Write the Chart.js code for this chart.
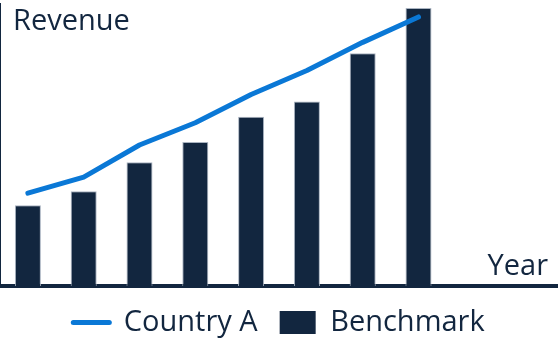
<!DOCTYPE html>
<html>
<head>
<meta charset="utf-8">
<script src="https://cdn.jsdelivr.net/npm/chart.js@4/dist/chart.umd.min.js"></script>
<style>
  html, body { margin: 0; padding: 0; background: #ffffff; }
  #wrap { width: 558px; height: 339px; position: relative; }
</style>
</head>
<body>
<div id="wrap"><canvas id="c"></canvas></div>
<script>
// Categories (years); the axis spans ten slots, data exists for the first eight
const categories = ['1', '2', '3', '4', '5', '6', '7', '8', '9', '10'];
const countryA = [32.9, 38.6, 50.0, 57.9, 67.9, 76.4, 86.4, 95.4];
const benchmark = [28.6, 33.6, 43.9, 51.1, 60.0, 65.4, 82.5, 98.6];
const seriesNames = ['Country A', 'Benchmark'];
const axisTitles = { y: 'Revenue', x: 'Year' };

const NAVY = '#12263f';
const BLUE = '#0a78d6';
const FONT = "'Open Sans', 'Noto Sans', sans-serif";

const axisTextPlugin = {
  id: 'axisText',
  afterDraw(chart) {
    const { ctx, chartArea } = chart;
    ctx.save();
    ctx.fillStyle = NAVY;
    ctx.font = '29px ' + FONT;
    ctx.textBaseline = 'alphabetic';
    ctx.textAlign = 'left';
    ctx.fillText(axisTitles.y, chartArea.left + 13, chartArea.top + 26);
    ctx.textAlign = 'right';
    ctx.fillText(axisTitles.x, chartArea.right - 10, chartArea.bottom - 11);
    ctx.restore();
  }
};

new Chart(document.getElementById('c'), {
  data: {
    labels: categories,
    datasets: [
      {
        type: 'line',
        label: seriesNames[0],
        data: countryA,
        borderColor: BLUE,
        backgroundColor: BLUE,
        borderWidth: 5,
        borderCapStyle: 'round',
        borderJoinStyle: 'round',
        pointRadius: 0,
        pointHoverRadius: 0,
        tension: 0,
        fill: false,
        order: 0,
        pointStyle: 'line'
      },
      {
        type: 'bar',
        label: seriesNames[1],
        data: benchmark,
        backgroundColor: NAVY,
        borderColor: '#aab4c1',
        borderWidth: 1,
        categoryPercentage: 1,
        barPercentage: 0.466,
        order: 1,
        pointStyle: 'rect'
      }
    ]
  },
  options: {
    responsive: true,
    maintainAspectRatio: false,
    animation: false,
    layout: { padding: { top: 4, left: 0, right: 0, bottom: -8 } },
    scales: {
      x: {
        type: 'category',
        offset: true,
        grid: { display: false, drawTicks: false },
        ticks: { display: false },
        border: { display: true, color: NAVY, width: 4 }
      },
      y: {
        min: 0,
        max: 100,
        grid: { display: false, drawTicks: false },
        ticks: { display: false },
        border: { display: true, color: NAVY, width: 2 }
      }
    },
    plugins: {
      tooltip: { enabled: false },
      legend: {
        position: 'bottom',
        labels: {
          color: NAVY,
          font: { family: FONT, size: 29 },
          usePointStyle: true,
          pointStyleWidth: 36,
          boxHeight: 23,
          padding: 22,
          generateLabels(chart) {
            const items = Chart.defaults.plugins.legend.labels.generateLabels(chart);
            items.forEach(it => {
              if (it.text === seriesNames[0]) {
                it.pointStyle = 'line';
                it.lineWidth = 5;
                it.strokeStyle = BLUE;
                it.lineCap = 'round';
              } else {
                it.pointStyle = 'rect';
                it.lineWidth = 0;
                it.fillStyle = NAVY;
              }
            });
            return items;
          }
        }
      }
    }
  },
  plugins: [axisTextPlugin]
});
</script>
</body>
</html>
